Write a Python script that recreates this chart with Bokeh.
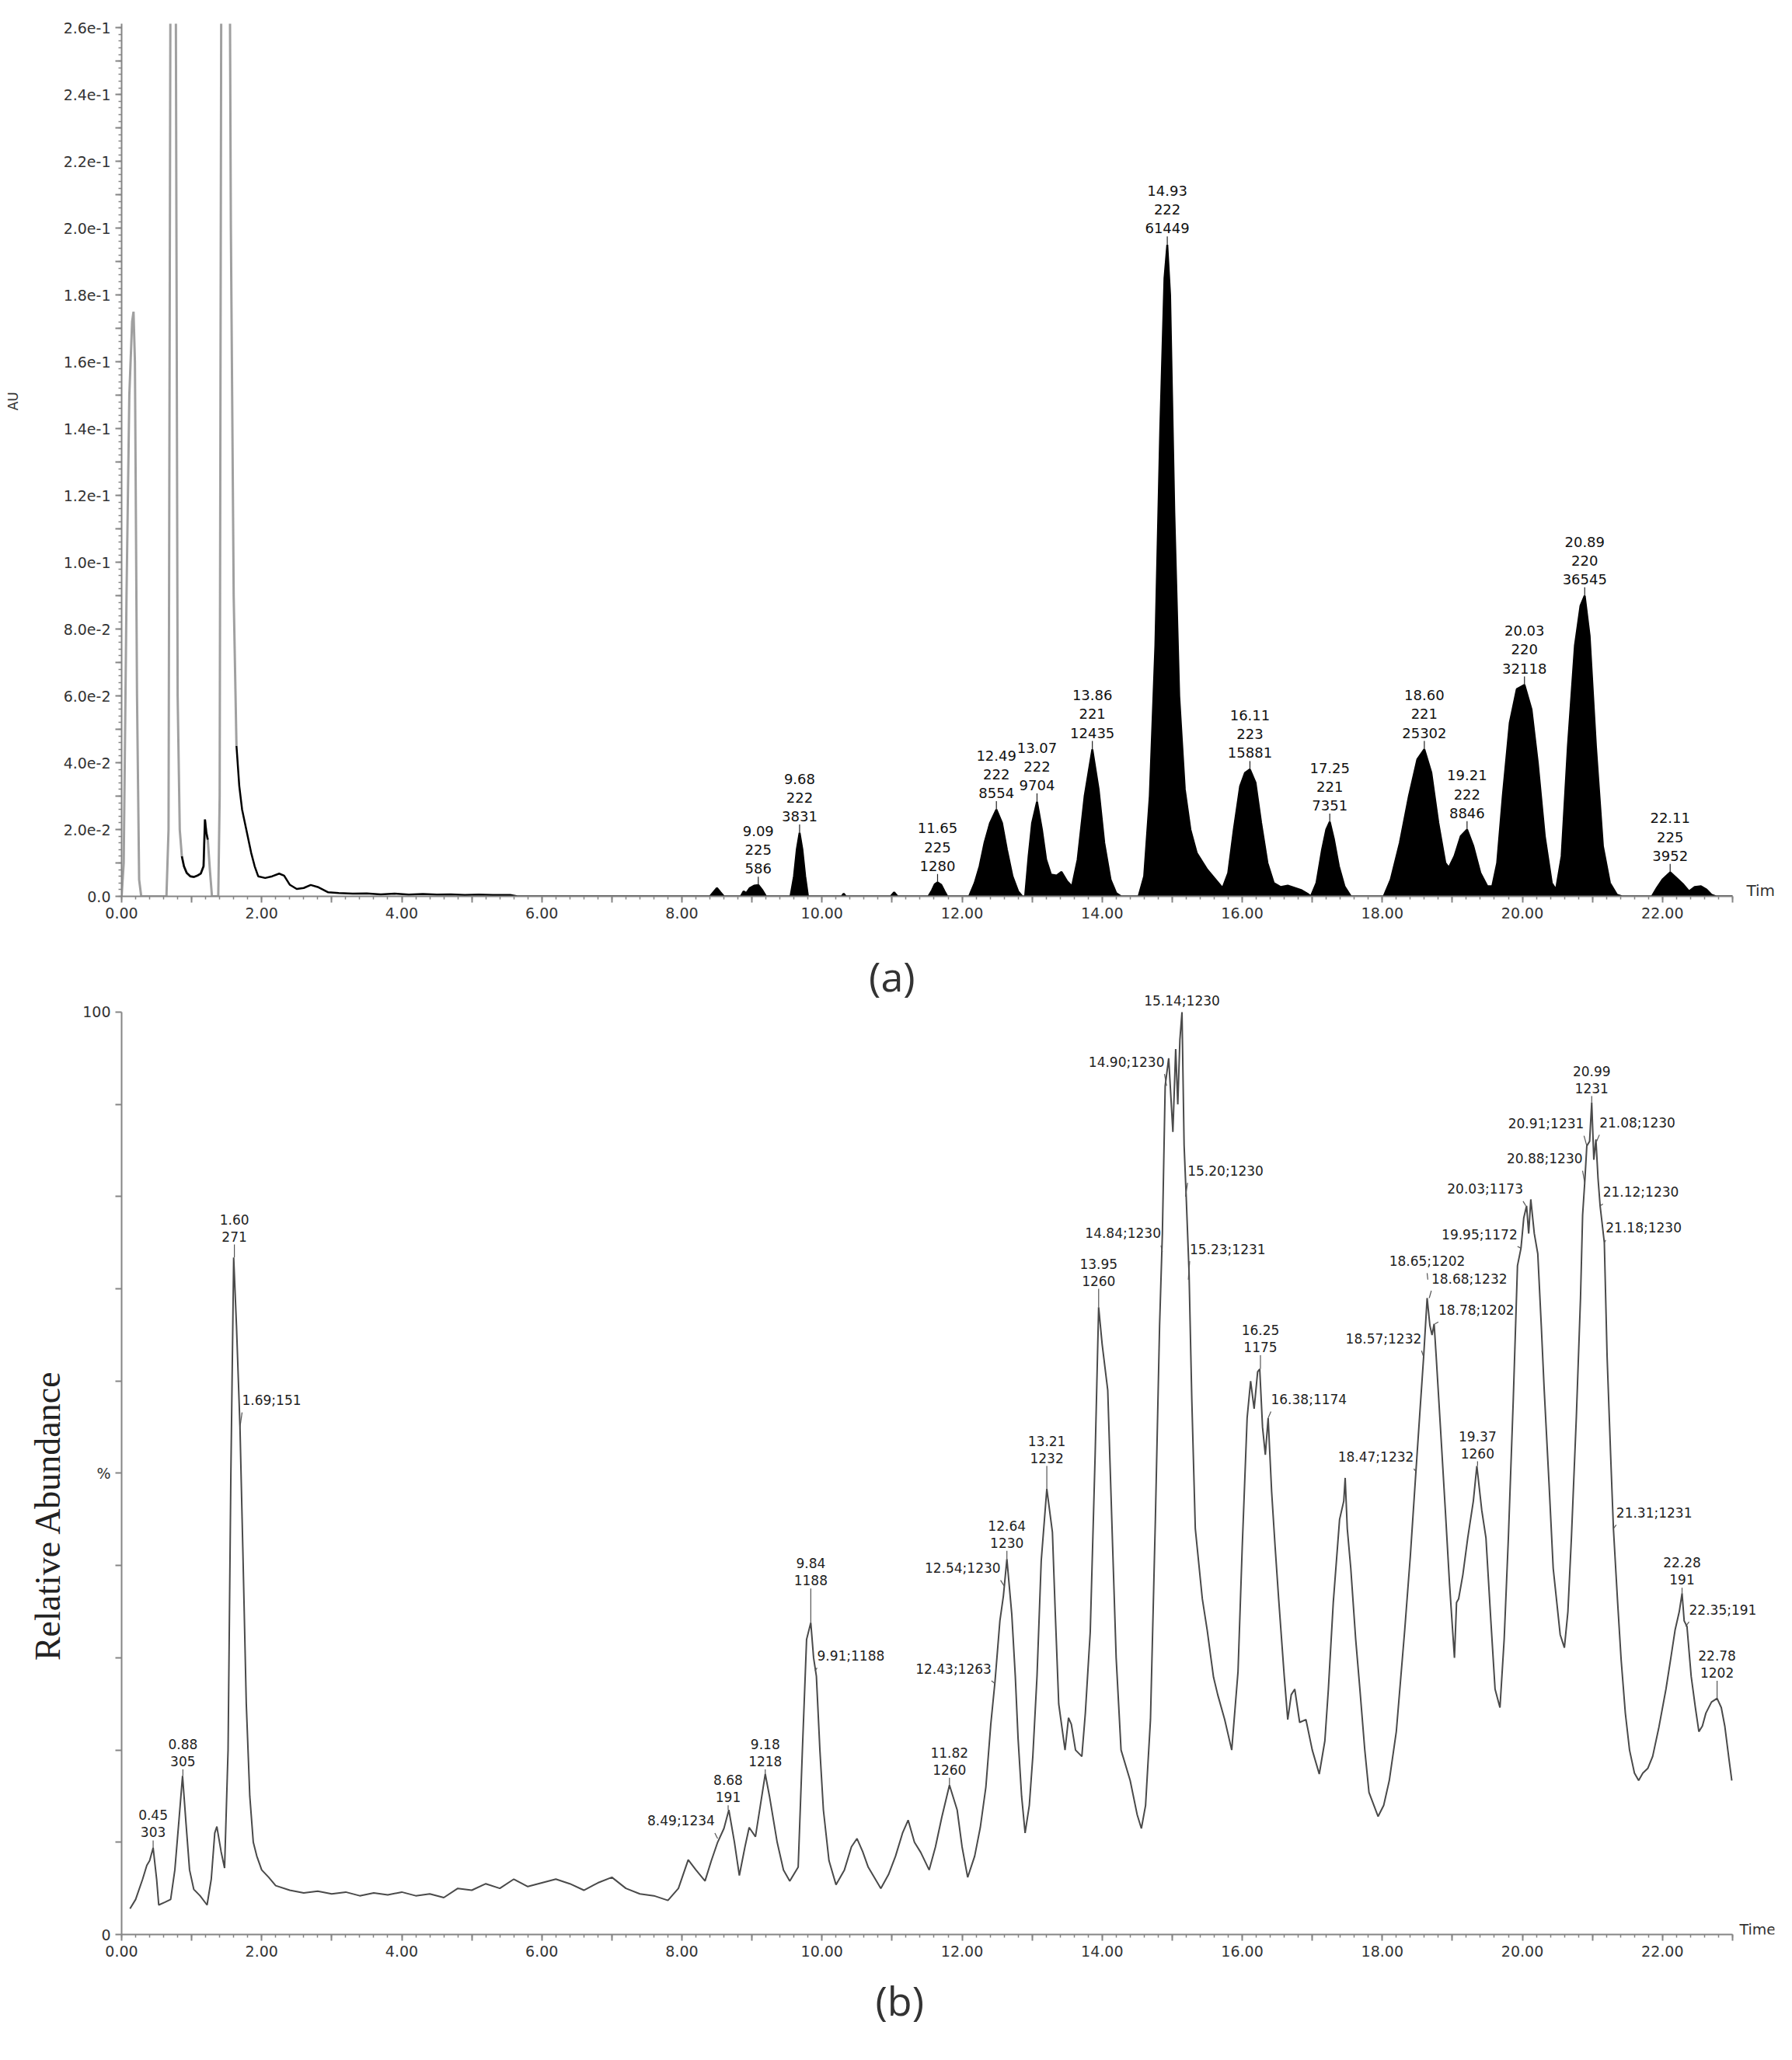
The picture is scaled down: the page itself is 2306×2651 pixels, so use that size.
import numpy as np
from bokeh.plotting import figure
from bokeh.layouts import column
from bokeh.models import FixedTicker, CustomJSTickFormatter, Range1d, Title
from bokeh.embed import file_html
from bokeh.resources import INLINE
from bokeh.core.properties import value

# ---------------- Panel (a): UV chromatogram (AU vs time, min) ----------------
early_t = [0.00, 0.03, 0.07, 0.11, 0.15, 0.17, 0.19, 0.22, 0.25, 0.28,
           0.64, 0.67, 0.70, 0.74, 0.77, 0.80, 0.83, 0.86, 0.89, 0.93,
           0.98, 1.03, 1.08, 1.13, 1.17, 1.19, 1.21, 1.23, 1.26, 1.29,
           1.38, 1.40, 1.43, 1.47, 1.52, 1.56, 1.60, 1.64]
early_v = [0.0, 0.01, 0.09, 0.15, 0.172, 0.175, 0.16, 0.06, 0.005, 0.0,
           0.0, 0.02, 0.30, 0.50, 0.30, 0.06, 0.02, 0.012, 0.009, 0.007,
           0.006, 0.0058, 0.0062, 0.0068, 0.009, 0.023, 0.019, 0.017, 0.008, 0.0,
           0.0, 0.03, 0.35, 0.45, 0.40, 0.20, 0.09, 0.045]

main_t = [1.64, 1.68, 1.72, 1.78, 1.85, 1.90, 1.95, 2.05, 2.15, 2.25,
          2.32, 2.40, 2.50, 2.60, 2.70, 2.80, 2.95, 3.10, 3.30, 3.50,
          3.70, 3.90, 4.10, 4.30, 4.50, 4.70, 4.90, 5.10, 5.30, 5.55,
          5.65, 8.40, 8.46, 8.50, 8.55, 8.60, 8.84, 8.88, 8.92, 8.97,
          9.03, 9.09, 9.15, 9.20, 9.55, 9.60, 9.64, 9.68, 9.72, 9.76,
          9.80, 10.28, 10.31, 10.34, 10.98, 11.03, 11.08, 11.52, 11.57, 11.61,
          11.65, 11.70, 11.75, 11.79, 12.10, 12.18, 12.25, 12.32, 12.40, 12.49,
          12.57, 12.64, 12.72, 12.80, 12.86, 12.90, 12.95, 13.00, 13.07, 13.14,
          13.20, 13.27, 13.35, 13.42, 13.50, 13.57, 13.65, 13.75, 13.86, 13.95,
          14.03, 14.12, 14.20, 14.27, 14.52, 14.60, 14.68, 14.76, 14.83, 14.89,
          14.93, 14.97, 15.03, 15.10, 15.18, 15.26, 15.35, 15.50, 15.62, 15.72,
          15.80, 15.88, 15.97, 16.04, 16.11, 16.19, 16.27, 16.36, 16.45, 16.55,
          16.65, 16.75, 16.85, 16.93, 16.98, 17.06, 17.14, 17.20, 17.25, 17.31,
          17.38, 17.46, 17.55, 17.62, 18.02, 18.12, 18.25, 18.38, 18.50, 18.60,
          18.70, 18.80, 18.90, 18.95, 19.03, 19.12, 19.21, 19.30, 19.40, 19.50,
          19.57, 19.64, 19.72, 19.82, 19.92, 20.03, 20.13, 20.22, 20.32, 20.42,
          20.48, 20.56, 20.65, 20.75, 20.83, 20.89, 20.96, 21.05, 21.15, 21.25,
          21.35, 21.42, 21.85, 21.92, 22.00, 22.11, 22.20, 22.30, 22.38, 22.46,
          22.55, 22.63, 22.70, 22.76, 23.00]
main_v = [0.045, 0.033, 0.026, 0.020, 0.013, 0.009, 0.006, 0.0055, 0.006, 0.0068,
          0.0062, 0.0035, 0.0022, 0.0025, 0.0034, 0.0028, 0.0012, 0.0010, 0.0008, 0.0009,
          0.0006, 0.0008, 0.0005, 0.0007, 0.0005, 0.0006, 0.0004, 0.0005, 0.0004, 0.0004,
          0.0, 0.0, 0.0015, 0.0025, 0.0012, 0.0, 0.0, 0.0015, 0.0010, 0.0025,
          0.0032, 0.0034, 0.0018, 0.0, 0.0, 0.006, 0.014, 0.019, 0.014, 0.006,
          0.0, 0.0, 0.0008, 0.0, 0.0, 0.0012, 0.0, 0.0, 0.0018, 0.0036,
          0.0042, 0.0035, 0.0015, 0.0, 0.0, 0.004, 0.009, 0.016, 0.022, 0.026,
          0.022, 0.014, 0.006, 0.0015, 0.0, 0.0, 0.012, 0.022, 0.0283, 0.020,
          0.011, 0.0065, 0.0062, 0.0073, 0.0045, 0.003, 0.011, 0.030, 0.044, 0.032,
          0.016, 0.005, 0.001, 0.0, 0.0, 0.006, 0.030, 0.075, 0.140, 0.185,
          0.195, 0.180, 0.115, 0.060, 0.032, 0.020, 0.013, 0.008, 0.005, 0.0025,
          0.007, 0.020, 0.033, 0.037, 0.038, 0.034, 0.022, 0.010, 0.004, 0.0028,
          0.0032, 0.0025, 0.0018, 0.0008, 0.0, 0.004, 0.014, 0.020, 0.0223, 0.017,
          0.009, 0.003, 0.0, 0.0, 0.0, 0.005, 0.016, 0.030, 0.041, 0.044,
          0.037, 0.022, 0.010, 0.0086, 0.012, 0.018, 0.020, 0.015, 0.007, 0.003,
          0.003, 0.010, 0.030, 0.052, 0.062, 0.0633, 0.056, 0.040, 0.018, 0.004,
          0.002, 0.012, 0.045, 0.075, 0.087, 0.090, 0.078, 0.045, 0.015, 0.004,
          0.0005, 0.0, 0.0, 0.0025, 0.005, 0.0072, 0.0055, 0.0035, 0.0015, 0.0028,
          0.003, 0.002, 0.0005, 0.0, 0.0]

a_lbl_text = ["9.09\n225\n586", "9.68\n222\n3831", "11.65\n225\n1280", "12.49\n222\n8554",
              "13.07\n222\n9704", "13.86\n221\n12435", "14.93\n222\n61449", "16.11\n223\n15881",
              "17.25\n221\n7351", "18.60\n221\n25302", "19.21\n222\n8846", "20.03\n220\n32118",
              "20.89\n220\n36545", "22.11\n225\n3952"]
a_lbl_t = [9.09, 9.68, 11.65, 12.49, 13.07, 13.86, 14.93, 16.11, 17.25, 18.60, 19.21, 20.03, 20.89, 22.11]
a_lbl_v = [0.0034, 0.019, 0.0042, 0.026, 0.0283, 0.044, 0.195, 0.038, 0.0223, 0.044, 0.020, 0.0633, 0.090, 0.0072]

# ---------------- Panel (b): TIC (relative abundance %, vs time) ----------------
b_t = [0.12, 0.20, 0.30, 0.36, 0.40, 0.45, 0.50, 0.53, 0.62, 0.70,
       0.76, 0.82, 0.87, 0.92, 0.97, 1.03, 1.12, 1.22, 1.28, 1.33,
       1.36, 1.42, 1.47, 1.52, 1.56, 1.60, 1.64, 1.69, 1.73, 1.78,
       1.83, 1.88, 1.93, 2.00, 2.10, 2.20, 2.40, 2.60, 2.80, 3.00,
       3.20, 3.40, 3.60, 3.80, 4.00, 4.20, 4.40, 4.60, 4.80, 5.00,
       5.20, 5.40, 5.60, 5.80, 6.00, 6.20, 6.40, 6.60, 6.80, 7.00,
       7.20, 7.40, 7.60, 7.80, 7.95, 8.09, 8.20, 8.33, 8.42, 8.51,
       8.60, 8.67, 8.75, 8.82, 8.90, 8.96, 9.05, 9.12, 9.19, 9.25,
       9.36, 9.45, 9.54, 9.66, 9.72, 9.78, 9.84, 9.88, 9.92, 9.97,
       10.02, 10.10, 10.20, 10.32, 10.42, 10.50, 10.58, 10.66, 10.84, 10.95,
       11.05, 11.15, 11.23, 11.32, 11.41, 11.53, 11.62, 11.71, 11.82, 11.93,
       12.00, 12.08, 12.18, 12.26, 12.34, 12.41, 12.47, 12.54, 12.59, 12.64,
       12.71, 12.76, 12.80, 12.85, 12.90, 12.96, 13.01, 13.07, 13.13, 13.21,
       13.29, 13.33, 13.38, 13.47, 13.52, 13.56, 13.62, 13.71, 13.76, 13.83,
       13.90, 13.95, 14.00, 14.08, 14.15, 14.20, 14.27, 14.40, 14.50, 14.56,
       14.62, 14.69, 14.76, 14.82, 14.86, 14.90, 14.95, 15.01, 15.05, 15.08,
       15.11, 15.14, 15.17, 15.20, 15.24, 15.28, 15.33, 15.43, 15.50, 15.59,
       15.65, 15.75, 15.85, 15.94, 16.00, 16.07, 16.12, 16.17, 16.22, 16.25,
       16.29, 16.33, 16.37, 16.42, 16.47, 16.52, 16.60, 16.65, 16.70, 16.75,
       16.82, 16.91, 17.00, 17.10, 17.18, 17.23, 17.30, 17.39, 17.45, 17.47,
       17.50, 17.55, 17.62, 17.68, 17.75, 17.81, 17.94, 18.02, 18.10, 18.20,
       18.32, 18.40, 18.48, 18.54, 18.59, 18.64, 18.68, 18.71, 18.74, 18.77,
       18.83, 18.90, 18.96, 19.03, 19.06, 19.09, 19.15, 19.22, 19.30, 19.35,
       19.42, 19.48, 19.55, 19.61, 19.68, 19.74, 19.80, 19.87, 19.93, 19.98,
       20.02, 20.06, 20.09, 20.12, 20.17, 20.22, 20.27, 20.31, 20.38, 20.44,
       20.54, 20.60, 20.65, 20.70, 20.77, 20.83, 20.86, 20.89, 20.92, 20.96,
       20.99, 21.02, 21.05, 21.08, 21.11, 21.14, 21.17, 21.21, 21.26, 21.30,
       21.36, 21.41, 21.47, 21.53, 21.60, 21.66, 21.72, 21.79, 21.86, 21.95,
       22.05, 22.12, 22.18, 22.24, 22.28, 22.31, 22.35, 22.41, 22.47, 22.52,
       22.57, 22.62, 22.70, 22.78, 22.84, 22.89, 22.95, 22.99]
b_v = [2.8, 3.8, 6.0, 7.5, 8.0, 9.4, 6.0, 3.2, 3.5, 3.8,
       7.0, 12.5, 17.2, 12.0, 7.0, 4.9, 4.2, 3.2, 6.0, 11.0,
       11.7, 9.0, 7.2, 20.0, 50.0, 73.4, 66.0, 55.0, 42.0, 25.0,
       15.0, 10.0, 8.5, 7.0, 6.2, 5.3, 4.8, 4.5, 4.7, 4.4,
       4.6, 4.2, 4.5, 4.3, 4.6, 4.2, 4.4, 4.0, 5.0, 4.8,
       5.5, 5.0, 6.0, 5.2, 5.6, 6.0, 5.5, 4.8, 5.6, 6.2,
       5.0, 4.4, 4.2, 3.7, 5.0, 8.1, 7.0, 5.8, 8.0, 10.0,
       11.5, 13.5, 10.0, 6.4, 9.5, 11.6, 10.6, 14.0, 17.4, 15.0,
       10.0, 7.0, 5.8, 7.3, 20.0, 32.0, 33.8, 30.0, 28.0, 20.0,
       13.5, 8.0, 5.4, 7.0, 9.5, 10.4, 9.0, 7.3, 5.0, 6.5,
       8.5, 11.0, 12.4, 10.0, 8.9, 7.0, 9.5, 12.7, 16.2, 13.5,
       9.5, 6.2, 8.5, 11.6, 16.0, 22.8, 27.4, 34.0, 36.7, 40.7,
       34.7, 28.0, 21.2, 15.0, 11.0, 14.0, 19.3, 28.0, 40.5, 48.3,
       43.6, 35.0, 25.0, 20.0, 23.5, 22.8, 20.0, 19.3, 24.0, 32.8,
       52.0, 68.0, 64.0, 59.0, 42.0, 30.0, 20.0, 16.7, 13.0, 11.5,
       14.0, 23.3, 45.0, 66.0, 76.0, 92.0, 95.0, 87.0, 96.0, 90.0,
       97.0, 100.0, 85.6, 80.0, 72.0, 58.0, 44.0, 36.4, 33.0, 27.9,
       26.0, 23.3, 20.0, 28.5, 42.0, 56.0, 60.0, 57.0, 61.0, 61.3,
       55.0, 52.0, 56.0, 48.0, 42.0, 36.4, 28.0, 23.3, 26.0, 26.6,
       23.0, 23.3, 20.0, 17.4, 21.0, 26.6, 36.0, 45.0, 47.0, 49.5,
       44.0, 39.7, 32.0, 26.6, 20.0, 15.4, 12.8, 14.0, 16.7, 22.0,
       33.0, 41.0, 50.2, 57.0, 62.6, 69.0, 66.0, 65.0, 66.2, 62.6,
       55.0, 46.0, 38.0, 30.0, 36.0, 36.4, 39.0, 43.0, 47.0, 50.8,
       46.0, 43.0, 34.0, 26.6, 24.6, 32.0, 43.0, 58.0, 72.5, 74.4,
       77.7, 79.0, 76.0, 79.7, 76.0, 73.8, 66.0, 59.3, 49.0, 39.7,
       32.5, 31.1, 35.0, 43.0, 56.0, 69.0, 78.0, 81.5, 85.5, 86.0,
       90.2, 84.0, 86.2, 82.0, 79.0, 77.0, 75.0, 62.6, 52.0, 44.0,
       36.0, 29.8, 24.0, 20.0, 17.5, 16.7, 17.5, 18.0, 19.3, 22.5,
       26.6, 30.0, 33.0, 35.0, 37.0, 34.0, 33.4, 28.0, 24.6, 22.0,
       22.6, 24.0, 25.2, 25.6, 24.6, 22.6, 19.0, 16.7]

# stacked peak labels: text, time, label bottom (%), apex (%)
b_stack_text = ["0.45\n303", "0.88\n305", "1.60\n271", "8.68\n191", "9.18\n1218", "9.84\n1188",
                "11.82\n1260", "12.64\n1230", "13.21\n1232", "13.95\n1260", "16.25\n1175",
                "19.37\n1260", "20.99\n1231", "22.28\n191", "22.78\n1202"]
b_stack_t = [0.45, 0.875, 1.61, 8.66, 9.19, 9.84, 11.82, 12.64, 13.21, 13.95, 16.26, 19.36, 20.99, 22.28, 22.78]
b_stack_v = [10.2, 17.9, 74.8, 14.0, 17.9, 37.5, 17.0, 41.6, 50.8, 70.0, 62.8, 51.3, 90.9, 37.6, 27.5]
b_stack_apex = [9.4, 17.2, 73.4, 13.5, 17.4, 33.8, 16.2, 40.7, 48.3, 68.0, 61.3, 50.8, 90.2, 37.0, 25.6]

# side labels: text, text anchor time, text centre (%), alignment, pointed time, pointed value (%)
b_side_text = ["1.69;151", "8.49;1234", "9.91;1188", "12.43;1263", "12.54;1230", "14.84;1230",
               "14.90;1230", "15.14;1230", "15.20;1230", "15.23;1231", "16.38;1174", "18.47;1232",
               "18.57;1232", "18.65;1202", "18.68;1232", "18.78;1202", "19.95;1172", "20.03;1173",
               "20.88;1230", "20.91;1231", "21.08;1230", "21.12;1230", "21.18;1230", "21.31;1231",
               "22.35;191"]
b_side_t = [1.72, 8.47, 9.93, 12.42, 12.55, 14.84, 14.89, 15.14, 15.22, 15.25, 16.41, 18.45,
            18.56, 18.64, 18.70, 18.80, 19.93, 20.01, 20.86, 20.88, 21.10, 21.15, 21.19, 21.34, 22.38]
b_side_v = [57.9, 12.3, 30.2, 28.8, 39.7, 76.0, 94.6, 101.2, 82.8, 74.3, 58.0, 51.8,
            64.6, 73.0, 71.1, 67.7, 75.9, 80.8, 84.1, 87.9, 88.0, 80.5, 76.6, 45.7, 35.2]
b_side_align = ["left", "right", "left", "right", "right", "right", "right", "center", "left", "left",
                "left", "right", "right", "center", "left", "left", "right", "right", "right", "right",
                "left", "left", "left", "left", "left"]
b_side_at = [1.69, 8.51, 9.90, 12.47, 12.60, 14.86, 14.92, 15.14, 15.19, 15.23, 16.37, 18.48,
             18.59, 18.65, 18.67, 18.75, 19.98, 20.05, 20.89, 20.92, 21.06, 21.11, 21.17, 21.30, 22.33]
b_side_av = [55.0, 10.4, 28.6, 27.2, 37.8, 74.0, 92.0, 99.9, 80.0, 71.0, 56.0, 50.2,
             62.6, 71.0, 69.0, 66.2, 74.4, 79.0, 81.5, 85.5, 86.0, 79.0, 75.0, 44.0, 33.4]

AXIS = "#858585"
FONT = "DejaVu Sans"
NB = "\u00a0"
T_END = 23.0      # axis extent (min)
X_VIEW = 23.6     # visible time window (room for the "Time" caption)

x_major = list(range(0, 24))
x_minor = [round(i * 0.2, 1) for i in range(0, 116)]
x_fmt = CustomJSTickFormatter(code="return (Math.round(tick) % 2 === 0) ? tick.toFixed(2) : '';")


def style(p):
    p.grid.visible = False
    p.outline_line_color = None
    p.background_fill_color = "white"
    p.border_fill_color = "white"
    for ax in (p.xaxis[0], p.yaxis[0]):
        ax.axis_line_color = AXIS
        ax.axis_line_width = 2
        ax.major_tick_line_color = AXIS
        ax.major_tick_line_width = 2
        ax.minor_tick_line_color = AXIS
        ax.minor_tick_line_width = 1.5
        ax.major_tick_in = 0
        ax.major_tick_out = 8
        ax.minor_tick_in = 0
        ax.minor_tick_out = 4
        ax.major_label_text_font = FONT
        ax.major_label_text_font_size = "19px"
        ax.major_label_text_color = "#333333"
        ax.major_label_standoff = 6
    p.xaxis[0].ticker = FixedTicker(ticks=x_major, minor_ticks=x_minor)
    p.xaxis[0].formatter = x_fmt
    p.xaxis[0].bounds = (0, T_END)


# ---------------- figure (a) ----------------
pa = figure(width=2290, height=1203, x_range=Range1d(0, X_VIEW), y_range=Range1d(0, 0.2612),
            output_backend="svg", toolbar_location=None,
            min_border_left=156, min_border_right=7, min_border_top=30, min_border_bottom=50)
style(pa)
pa.yaxis[0].ticker = FixedTicker(ticks=[round(i * 0.01, 2) for i in range(27)],
                                 minor_ticks=[round(i * 0.002, 3) for i in range(131)])
pa.yaxis[0].formatter = CustomJSTickFormatter(code="""
const k = Math.round(tick * 100);
if (k % 2 !== 0) return '';
if (k === 0) return '0.0';
const e = Math.floor(Math.log10(tick) + 1e-9);
const m = tick / Math.pow(10, e);
return m.toFixed(1) + 'e' + e;
""")
pa.yaxis[0].axis_label = NB * 28 + "AU"
pa.yaxis[0].axis_label_text_font = FONT
pa.yaxis[0].axis_label_text_font_size = "17px"
pa.yaxis[0].axis_label_text_font_style = "normal"
pa.yaxis[0].axis_label_text_color = "#333333"
pa.yaxis[0].axis_label_standoff = 52

et = np.array(early_t)
ev = np.array(early_v)
pa.line(et, ev, line_color="#a0a0a0", line_width=3)
dip = (et >= 0.86) & (et <= 1.23)
pa.line(et[dip], ev[dip], line_color="black", line_width=2.5)

mt = np.array(main_t)
mv = np.array(main_v)
fill = mt >= 8.3
pa.varea(x=mt[fill], y1=np.zeros(fill.sum()), y2=mv[fill], fill_color="black")
pa.line(mt, mv, line_color="black", line_width=2.5)

a_gap = 0.0025
a_top = [v + a_gap for v in a_lbl_v]
pa.segment(x0=a_lbl_t, y0=a_lbl_v, x1=a_lbl_t, y1=a_top, line_color="#222222", line_width=1.2)
pa.text(x=a_lbl_t, y=a_top, text=a_lbl_text, text_align="center", text_baseline="bottom",
        text_font=value(FONT), text_font_size="18px", text_line_height=1.15, text_color="#111111")
pa.text(x=[23.2], y=[0.0], text=["Time"], text_align="left", text_baseline="bottom", y_offset=4,
        text_font=value(FONT), text_font_size="20px", text_color="#333333")

# ---------------- figure (b) ----------------
# the frame reaches above 100 % so that the "(a)" caption and the top peak label stay visible
pb = figure(width=2290, height=1432, x_range=Range1d(0, X_VIEW), y_range=Range1d(0, 108.34),
            output_backend="svg", toolbar_location=None,
            min_border_left=156, min_border_right=7, min_border_top=0, min_border_bottom=146)
style(pb)
pb.yaxis[0].bounds = (0, 100)
pb.yaxis[0].ticker = FixedTicker(ticks=list(range(0, 101, 10)), minor_ticks=[])
pb.yaxis[0].formatter = CustomJSTickFormatter(code="""
if (tick === 0) return '0';
if (tick === 50) return '%';
if (tick === 100) return '100';
return '';
""")
pb.yaxis[0].axis_label = "Relative Abundance" + NB * 18
pb.yaxis[0].axis_label_text_font = "Liberation Serif"
pb.yaxis[0].axis_label_text_font_size = "46px"
pb.yaxis[0].axis_label_text_font_style = "normal"
pb.yaxis[0].axis_label_text_color = "#222222"
pb.yaxis[0].axis_label_standoff = 16

pb.text(x=[11.0], y=[104.0], text=["(a)"], text_align="center", text_baseline="middle",
        text_font=value("Open Sans"), text_font_size="52px", text_color="#333333")

pb.line(b_t, b_v, line_color="#4a4a4a", line_width=2)

pb.segment(x0=b_stack_t, y0=b_stack_apex, x1=b_stack_t, y1=b_stack_v, line_color="#555555", line_width=1.2)
pb.text(x=b_stack_t, y=b_stack_v, text=b_stack_text, text_align="center", text_baseline="bottom",
        text_font=value(FONT), text_font_size="17px", text_line_height=1.1, text_color="#222222")

side_y1 = [v - 1.3 for v in b_side_v]
pb.segment(x0=b_side_at, y0=b_side_av, x1=b_side_t, y1=side_y1, line_color="#555555", line_width=1.2)
pb.text(x=b_side_t, y=b_side_v, text=b_side_text, text_align=b_side_align,
        text_baseline="middle", text_font=value(FONT), text_font_size="17px", text_color="#222222")

pb.text(x=[23.1], y=[0.0], text=["Time"], text_align="left", text_baseline="bottom", y_offset=4,
        text_font=value(FONT), text_font_size="19px", text_color="#333333")
pb.add_layout(Title(text="(b)", align="left", offset=970, standoff=30, text_font="Open Sans",
                    text_font_size="52px", text_font_style="normal", text_color="#333333"), "below")

layout = column(pa, pb)
open("out.html", "w").write(file_html(layout, INLINE))
